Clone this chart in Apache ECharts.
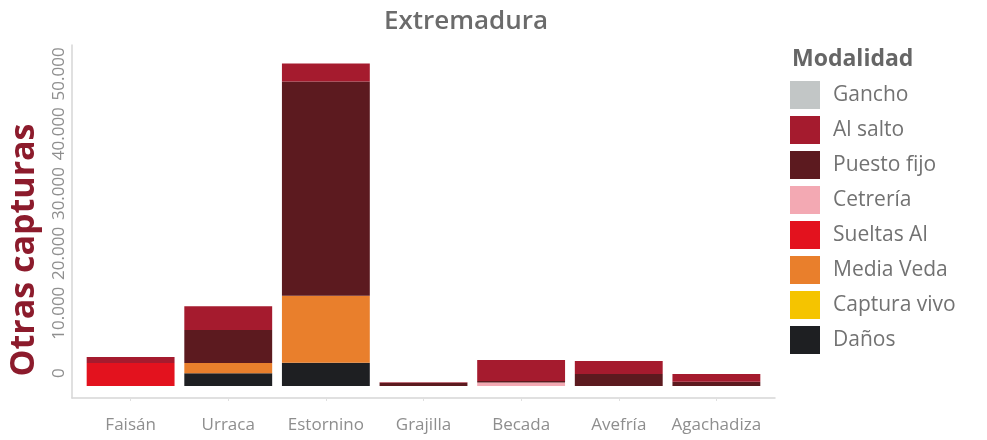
<!DOCTYPE html>
<html>
<head>
<meta charset="utf-8">
<script src="https://cdn.jsdelivr.net/npm/echarts@6/dist/echarts.min.js"></script>
<style>
html,body{margin:0;padding:0;background:#fff;}
#c{width:987px;height:440px;}
</style>
</head>
<body>
<div id="c"></div>
<script>
// ---- data ----
const categories = ['Faisán', 'Urraca', 'Estornino', 'Grajilla', 'Becada', 'Avefría', 'Agachadiza'];
const legendOrder = ['Gancho', 'Al salto', 'Puesto fijo', 'Cetrería', 'Sueltas Al', 'Media Veda', 'Captura vivo', 'Daños'];
const gancho      = [0, 0, 0, 0, 0, 0, 0];
const alSalto     = [1000, 4000, 3000, 100, 3500, 2200, 1300];
const puestoFijo  = [0, 5500, 35800, 550, 250, 2000, 700];
const cetreria    = [0, 0, 0, 0, 600, 0, 0];
const sueltasAl   = [3850, 0, 0, 0, 0, 0, 0];
const mediaVeda   = [0, 1700, 11200, 0, 0, 0, 0];
const capturaVivo = [0, 0, 0, 0, 0, 0, 0];
const danos       = [0, 2150, 3900, 0, 0, 0, 0];
const yTicks = [0, 10000, 20000, 30000, 40000, 50000];

const colors = {
  'Gancho': '#c2c6c6',
  'Al salto': '#a51b2e',
  'Puesto fijo': '#5c1a1f',
  'Cetrería': '#f3a9b3',
  'Sueltas Al': '#e3121e',
  'Media Veda': '#e97f2c',
  'Captura vivo': '#f5c400',
  'Daños': '#1e1f22'
};
const seriesData = {
  'Gancho': gancho, 'Al salto': alSalto, 'Puesto fijo': puestoFijo, 'Cetrería': cetreria,
  'Sueltas Al': sueltasAl, 'Media Veda': mediaVeda, 'Captura vivo': capturaVivo, 'Daños': danos
};

const FONT = 'Open Sans';
const YMIN = -2000, YMAX = 57000;
const fmt = v => String(v).replace(/\B(?=(\d{3})+(?!\d))/g, '.');

const stackOrder = legendOrder.slice().reverse();
const series = stackOrder.map(name => ({
  name: name,
  type: 'bar',
  stack: 'total',
  xAxisIndex: 1,
  yAxisIndex: 1,
  barWidth: '90%',
  itemStyle: { color: colors[name] },
  emphasis: { disabled: true },
  data: seriesData[name]
}));

const chart = echarts.init(document.getElementById('c'), null, { renderer: 'canvas' });
chart.setOption({
  animation: false,
  backgroundColor: '#ffffff',
  textStyle: { fontFamily: FONT },
  title: [
    { text: 'Extremadura', left: 461, top: 4, textAlign: 'center',
      textStyle: { fontFamily: FONT, fontSize: 26, fontWeight: 600, color: '#6b6b6b' } },
    { text: 'Modalidad', left: 787, top: 43,
      textStyle: { fontFamily: FONT, fontSize: 23, fontWeight: 700, color: '#666666' } }
  ],
  legend: {
    data: legendOrder,
    orient: 'vertical',
    left: 790, top: 81,
    padding: 0,
    itemWidth: 30, itemHeight: 28, itemGap: 7,
    icon: 'rect',
    textStyle: { fontFamily: FONT, fontSize: 21, color: '#727272', padding: [0, 0, 0, 8] }
  },
  grid: [
    { left: 72, top: 45, width: 703, height: 353 },
    { left: 81.8, top: 45, width: 683.4, height: 353 }
  ],
  xAxis: [
    { type: 'value', gridIndex: 0, min: 0, max: 1,
      axisLine: { show: true, onZero: false, lineStyle: { color: '#d6d6d6', width: 1.5 } },
      axisTick: { show: false }, axisLabel: { show: false }, splitLine: { show: false } },
    { type: 'category', gridIndex: 1, data: categories,
      axisLine: { show: false, onZero: false },
      axisTick: { show: true, alignWithLabel: true, length: 3, lineStyle: { color: '#e0e0e0' } },
      axisLabel: { interval: 0, margin: 19, fontFamily: FONT, fontSize: 17, color: '#8e8e8e' },
      splitLine: { show: false } }
  ],
  yAxis: [
    { type: 'value', gridIndex: 0, min: YMIN, max: YMAX, interval: 1000,
      axisLine: { show: true, onZero: false, lineStyle: { color: '#d6d6d6', width: 1.5 } },
      axisTick: { show: false }, splitLine: { show: false },
      axisLabel: {
        rotate: 90, margin: 4, fontFamily: FONT, fontSize: 17, color: '#8f8f8f',
        padding: [0, 0, 0, 26],
        formatter: v => (yTicks.indexOf(v) >= 0 ? fmt(v) : '')
      } },
    { type: 'value', gridIndex: 1, min: YMIN, max: YMAX, show: false,
      splitLine: { show: false } }
  ],
  graphic: [
    { type: 'text', x: 24, y: 250, rotation: Math.PI / 2,
      style: { text: 'Otras capturas', fontFamily: FONT, fontSize: 34, fontWeight: 700,
               fill: '#8c1b2c', textAlign: 'center', textVerticalAlign: 'middle' } }
  ],
  series: series
});
</script>
</body>
</html>
